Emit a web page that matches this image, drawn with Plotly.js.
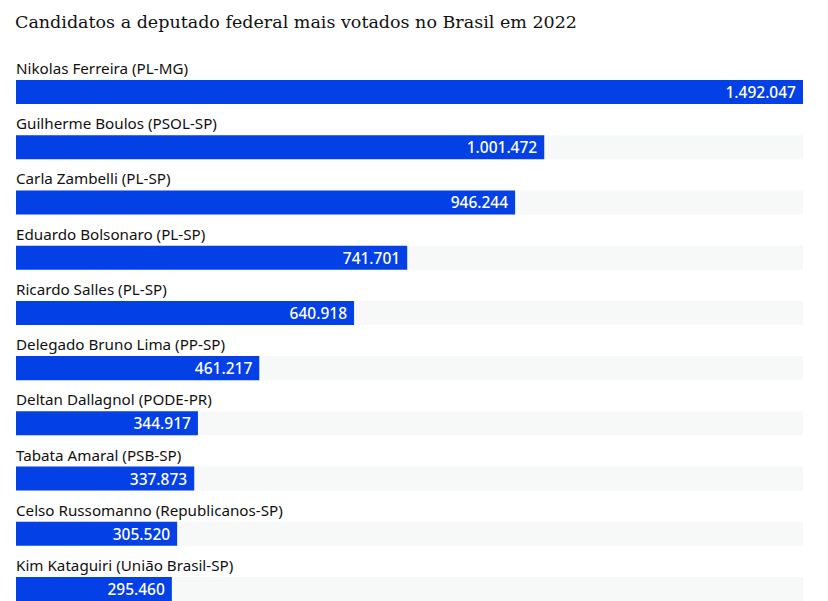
<!DOCTYPE html>
<html><head><meta charset="utf-8">
<script src="https://cdn.plot.ly/plotly-3.0.1.min.js"></script>
<style>html,body{margin:0;padding:0;background:#fff}#chart{width:828px;height:601px}</style>
</head><body><div id="chart"></div>
<script>
const candidates = ["Nikolas Ferreira (PL-MG)","Guilherme Boulos (PSOL-SP)","Carla Zambelli (PL-SP)","Eduardo Bolsonaro (PL-SP)","Ricardo Salles (PL-SP)","Delegado Bruno Lima (PP-SP)","Deltan Dallagnol (PODE-PR)","Tabata Amaral (PSB-SP)","Celso Russomanno (Republicanos-SP)","Kim Kataguiri (União Brasil-SP)"];
const votes = [1492047,1001472,946244,741701,640918,461217,344917,337873,305520,295460];
const maxVotes = Math.max(...votes);

const bg = {type:'bar', orientation:'h', y:candidates, x:candidates.map(()=>maxVotes),
  marker:{color:'#f7f8f8'}, width:0.435, hoverinfo:'skip', showlegend:false};
const main = {type:'bar', orientation:'h', y:candidates, x:votes,
  marker:{color:'#0340e6'}, width:0.435, texttemplate:'%{x:,} ', textposition:'inside',
  insidetextanchor:'end', textangle:0, constraintext:'none',
  textfont:{family:'Noto Sans, sans-serif', size:15.5, color:'#ffffff', weight:500}, showlegend:false};

const annotations = candidates.map(c=>({x:0, y:c, xref:'x', yref:'y', text:c, showarrow:false,
  xanchor:'left', yanchor:'middle', yshift:24, xshift:-2, font:{family:'Noto Sans, sans-serif', size:15.2, color:'#111'}}));

const layout = {
  width:828, height:601, margin:{l:16, r:25, t:64, b:0},
  paper_bgcolor:'#fff', plot_bgcolor:'#fff', barmode:'overlay', separators:',.',
  title:{text:'Candidatos a deputado federal mais votados no Brasil em 2022', x:15/828, xref:'container', xanchor:'left',
    y:1-22/601, yref:'container', yanchor:'middle', font:{family:'DejaVu Serif, serif', size:17.5, color:'#111'}},
  xaxis:{range:[0,maxVotes], visible:false, fixedrange:true},
  yaxis:{type:'category', range:[9.217,-0.507], autorange:false, visible:false, fixedrange:true},
  annotations:annotations
};
Plotly.newPlot('chart',[bg,main],layout,{displayModeBar:false,staticPlot:true});
</script></body></html>
